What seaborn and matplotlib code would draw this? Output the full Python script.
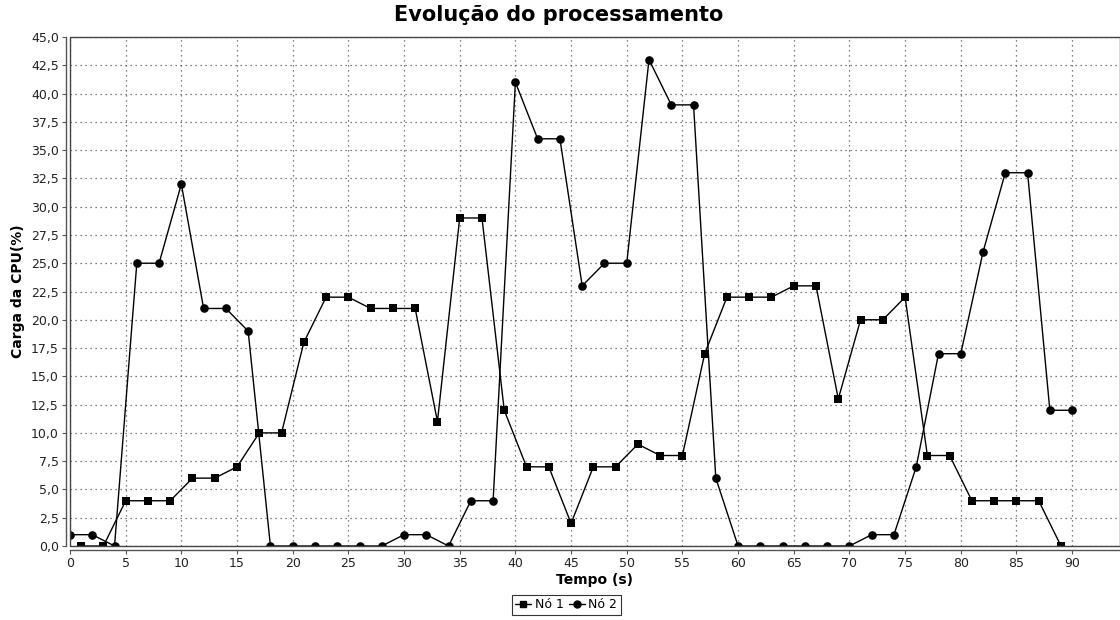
import matplotlib
matplotlib.use("Agg")
import matplotlib.pyplot as plt
from matplotlib.ticker import MultipleLocator, FuncFormatter
from matplotlib.lines import Line2D
from matplotlib.patches import Rectangle
import pandas as pd
import seaborn as sns

# Node 1 samples (odd seconds)
tempo_no1 = [1, 3, 5, 7, 9, 11, 13, 15, 17, 19, 21, 23, 25, 27, 29, 31, 33, 35, 37, 39,
             41, 43, 45, 47, 49, 51, 53, 55, 57, 59, 61, 63, 65, 67, 69, 71, 73, 75, 77, 79,
             81, 83, 85, 87, 89]
carga_no1 = [0, 0, 4, 4, 4, 6, 6, 7, 10, 10, 18, 22, 22, 21, 21, 21, 11, 29, 29, 12,
             7, 7, 2, 7, 7, 9, 8, 8, 17, 22, 22, 22, 23, 23, 13, 20, 20, 22, 8, 8,
             4, 4, 4, 4, 0]

# Node 2 samples (even seconds)
tempo_no2 = [0, 2, 4, 6, 8, 10, 12, 14, 16, 18, 20, 22, 24, 26, 28, 30, 32, 34, 36, 38,
             40, 42, 44, 46, 48, 50, 52, 54, 56, 58, 60, 62, 64, 66, 68, 70, 72, 74, 76, 78,
             80, 82, 84, 86, 88, 90]
carga_no2 = [1, 1, 0, 25, 25, 32, 21, 21, 19, 0, 0, 0, 0, 0, 0, 1, 1, 0, 4, 4,
             41, 36, 36, 23, 25, 25, 43, 39, 39, 6, 0, 0, 0, 0, 0, 0, 1, 1, 7, 17,
             17, 26, 33, 33, 12, 12]

series_names = ["Nó 1", "Nó 2"]

df = pd.concat([
    pd.DataFrame({"Tempo": tempo_no1, "Carga": carga_no1, "Nó": series_names[0]}),
    pd.DataFrame({"Tempo": tempo_no2, "Carga": carga_no2, "Nó": series_names[1]}),
], ignore_index=True)

sns.set_theme(style="white")
plt.rcParams["font.family"] = ["DejaVu Sans"]

fig = plt.figure(figsize=(11.2, 6.2), dpi=100)
ax = fig.add_axes([70 / 1120, 74 / 620, 1 - 70 / 1120, (546 - 37) / 620])

sns.lineplot(data=df, x="Tempo", y="Carga", hue="Nó", style="Nó",
             markers={"Nó 1": "s", "Nó 2": "o"}, dashes=False,
             palette={"Nó 1": "black", "Nó 2": "black"},
             linewidth=1.0, markersize=5.4, markeredgewidth=0,
             legend=False, ax=ax, zorder=3)
for ln in ax.lines:
    ln.set_clip_on(True)
    ln.set_clip_path(ax.patch)
    if ln.get_marker() == "o":
        ln.set_markersize(6.2)

ax.set_xlim(0, 94.3)
ax.set_ylim(0, 45)
ax.xaxis.set_major_locator(MultipleLocator(5))
ax.yaxis.set_major_locator(MultipleLocator(2.5))
ax.xaxis.set_major_formatter(FuncFormatter(lambda v, p: f"{v:.0f}" if v <= 90 else ""))
ax.yaxis.set_major_formatter(FuncFormatter(lambda v, p: f"{v:.1f}".replace(".", ",")))

ax.grid(True, which="major", color="#555555", linestyle=(0, (1, 3)), linewidth=0.9)

# Plot-area outline, with the axis lines set slightly outward
ax.add_patch(Rectangle((0, 0), 1, 1, transform=ax.transAxes, fill=False,
                       edgecolor="#444444", linewidth=1.0, zorder=4, clip_on=False))
for side in ["top", "right"]:
    ax.spines[side].set_visible(False)
for side in ["left", "bottom"]:
    ax.spines[side].set_position(("outward", 3))
    ax.spines[side].set_color("#555555")
    ax.spines[side].set_linewidth(1.0)

ax.tick_params(axis="both", which="major", direction="out", length=3, width=0.8,
               color="#555555", labelsize=9, labelcolor="#222222", pad=2,
               left=True, bottom=True)

ax.set_xlabel("Tempo (s)", fontsize=10, fontweight="bold", labelpad=2, color="black")
ax.set_ylabel("Carga da CPU(%)", fontsize=10, fontweight="bold", labelpad=4, color="black")
fig.suptitle("Evolução do processamento", fontsize=15, fontweight="bold",
             x=0.499, y=1 - 15 / 620, va="center", color="black")

handles = [
    Line2D([0], [0], color="black", marker="s", markersize=4.5, linewidth=1.0),
    Line2D([0], [0], color="black", marker="o", markersize=5.0, linewidth=1.0),
]
leg = fig.legend(handles, series_names, loc="center", bbox_to_anchor=(566 / 1120, 1 - 605 / 620),
                 ncol=2, fontsize=9, frameon=True, fancybox=False, handlelength=1.3,
                 handletextpad=0.3, columnspacing=0.4, borderpad=0.25, borderaxespad=0)
leg.get_frame().set_edgecolor("black")
leg.get_frame().set_linewidth(0.8)
for t in leg.get_texts():
    t.set_color("black")

fig.savefig("out.png", dpi=100)
